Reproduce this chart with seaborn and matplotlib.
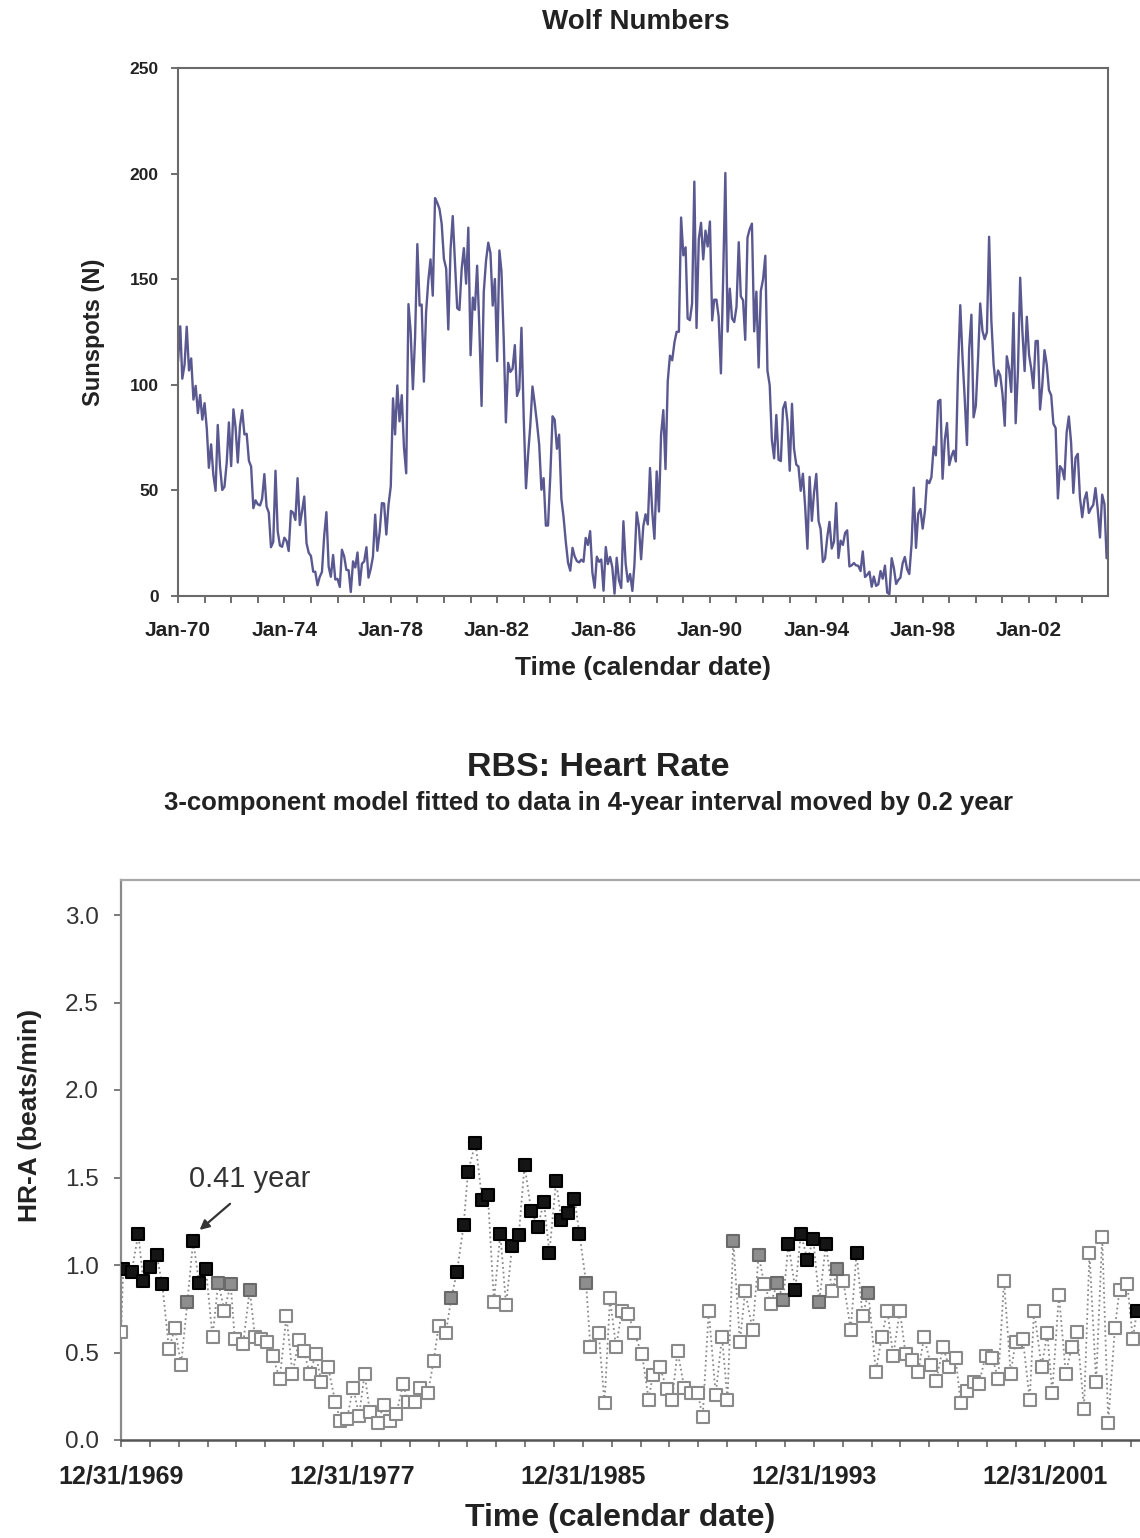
import numpy as np
import pandas as pd
import matplotlib
matplotlib.use("Agg")
import matplotlib.pyplot as plt
import matplotlib.dates as mdates
from matplotlib.ticker import FixedLocator, MultipleLocator
import seaborn as sns

sns.set_style("ticks")
plt.rcParams['font.family'] = ['Liberation Sans', 'DejaVu Sans']

# ---------------- Top panel: monthly Wolf numbers (Jan 1970 - Dec 2004) ----------------
sunspots_1970s = [
    111.0, 127.7, 102.9, 109.5, 127.5, 106.8, 112.5, 93.0, 99.5, 86.6, 95.2, 83.5,
    91.3, 79.0, 60.7, 71.8, 57.5, 49.8, 81.0, 61.4, 50.2, 51.7, 63.2, 82.2,
    61.5, 88.4, 80.1, 63.2, 80.5, 88.0, 76.5, 76.8, 64.0, 61.3, 41.6, 45.3,
    43.4, 42.9, 46.0, 57.7, 42.4, 39.5, 23.1, 25.6, 59.3, 30.7, 23.9, 23.3,
    27.6, 26.0, 21.3, 40.3, 39.5, 36.0, 55.8, 33.6, 40.2, 47.1, 25.0, 20.5,
    18.9, 11.5, 11.5, 5.1, 9.0, 11.4, 28.2, 39.7, 13.9, 9.1, 19.4, 7.8,
    8.1, 4.3, 21.9, 18.8, 12.4, 12.2, 1.9, 16.4, 13.5, 20.6, 5.2, 15.3,
    16.4, 23.1, 8.7, 12.9, 18.6, 38.5, 21.4, 30.1, 44.0, 43.8, 29.1, 43.2,
    51.9, 93.6, 76.5, 99.7, 82.7, 95.1, 70.4, 58.1, 138.2, 125.1, 97.9, 122.7,
    166.6, 137.5, 138.0, 101.5, 134.4, 149.5, 159.4, 142.2, 188.4, 186.2, 183.3, 176.3,
]
sunspots_1980s = [
    159.6, 155.0, 126.2, 164.1, 179.9, 157.3, 136.3, 135.4, 155.0, 164.7, 147.9, 174.4,
    114.0, 141.3, 135.5, 156.4, 127.5, 90.0, 143.8, 158.7, 167.3, 162.4, 137.5, 150.1,
    111.2, 163.6, 153.8, 122.0, 82.2, 110.4, 106.1, 107.6, 118.8, 94.7, 98.1, 127.0,
    84.3, 51.0, 66.5, 80.7, 99.2, 91.1, 82.2, 71.8, 50.3, 55.8, 33.3, 33.4,
    57.0, 85.1, 83.5, 69.7, 76.4, 46.1, 37.4, 25.5, 15.7, 12.0, 22.8, 18.7,
    16.5, 15.9, 17.2, 16.2, 27.5, 24.2, 30.7, 11.1, 3.9, 18.6, 16.2, 17.3,
    2.5, 23.2, 15.1, 18.5, 13.7, 1.1, 18.1, 7.4, 3.8, 35.4, 15.2, 6.8,
    10.4, 2.4, 14.7, 39.6, 33.0, 17.4, 33.0, 38.7, 33.9, 60.6, 39.9, 27.1,
    59.0, 40.0, 76.2, 88.0, 60.1, 101.8, 113.8, 111.6, 120.1, 125.1, 125.1, 179.2,
    161.3, 165.1, 131.4, 130.6, 138.5, 196.2, 126.9, 168.9, 176.7, 159.4, 173.0, 165.5,
]
sunspots_1990s = [
    177.3, 130.5, 140.3, 140.3, 132.2, 105.4, 149.4, 200.3, 125.2, 145.5, 131.4, 129.7,
    136.9, 167.5, 141.9, 140.0, 121.3, 169.7, 173.7, 176.3, 125.3, 144.1, 108.2, 144.4,
    150.0, 161.1, 106.7, 99.8, 73.8, 65.2, 85.7, 64.5, 63.9, 88.7, 91.8, 82.6,
    59.3, 91.0, 69.8, 62.2, 61.3, 49.8, 57.9, 42.2, 22.4, 56.4, 35.6, 48.9,
    57.8, 35.5, 31.7, 16.1, 17.8, 28.0, 35.1, 22.5, 25.7, 44.0, 18.0, 26.2,
    24.2, 29.9, 31.1, 14.0, 14.5, 15.6, 14.5, 14.3, 11.8, 21.1, 9.0, 10.0,
    11.5, 4.4, 9.2, 4.8, 5.5, 11.8, 8.2, 14.4, 1.6, 0.9, 17.9, 13.3,
    5.7, 7.6, 8.7, 15.5, 18.5, 12.7, 10.4, 24.4, 51.3, 22.8, 39.0, 41.2,
    31.9, 40.3, 54.8, 53.4, 56.3, 70.7, 66.6, 92.2, 92.9, 55.5, 74.0, 81.9,
    62.0, 66.3, 68.8, 63.7, 106.4, 137.7, 113.5, 93.7, 71.5, 116.7, 133.2, 84.6,
]
sunspots_2000s = [
    90.1, 112.9, 138.5, 125.5, 121.6, 124.9, 170.1, 130.5, 109.7, 99.4, 106.8, 104.4,
    95.6, 80.6, 113.5, 107.7, 96.6, 134.0, 81.8, 106.4, 150.7, 125.5, 106.5, 132.2,
    114.1, 107.4, 98.4, 120.7, 120.8, 88.3, 99.6, 116.4, 109.6, 97.5, 95.0, 81.6,
    79.5, 46.2, 61.5, 60.0, 55.2, 77.4, 85.0, 72.7, 48.8, 65.5, 67.3, 46.5,
    37.3, 45.8, 49.1, 39.3, 41.5, 43.2, 51.1, 40.9, 27.7, 48.0, 43.5, 17.9,
]
sunspot_start = "1970-01-01"
top_tick_years = [1970, 1974, 1978, 1982, 1986, 1990, 1994, 1998, 2002]

# ---------------- Bottom panel: HR-A amplitude of the 0.41-year component ----------------
hr_year = [
    1970.00, 1970.08, 1970.37, 1970.60, 1970.77, 1971.00, 1971.23, 1971.43, 1971.66, 1971.87,
    1972.08, 1972.30, 1972.50, 1972.70, 1972.94, 1973.17, 1973.37, 1973.58, 1973.80, 1973.94,
    1974.23, 1974.46, 1974.64, 1974.85, 1975.06, 1975.25, 1975.50, 1975.73, 1975.94, 1976.16,
    1976.33, 1976.54, 1976.75, 1976.94, 1977.17, 1977.42, 1977.60, 1977.83, 1978.04, 1978.25,
    1978.44, 1978.62, 1978.90, 1979.10, 1979.33, 1979.54, 1979.77, 1979.94, 1980.17, 1980.37,
    1980.63, 1980.83, 1981.00, 1981.25, 1981.44, 1981.64, 1981.87, 1982.02, 1982.28, 1982.51,
    1982.71, 1982.92, 1983.14, 1983.34, 1983.55, 1983.78, 1983.98, 1984.21, 1984.44, 1984.65,
    1984.84, 1985.07, 1985.25, 1985.48, 1985.71, 1985.88, 1986.11, 1986.26, 1986.55, 1986.75,
    1986.94, 1987.15, 1987.35, 1987.58, 1987.78, 1988.05, 1988.28, 1988.42, 1988.67, 1988.90,
    1989.09, 1989.28, 1989.51, 1989.75, 1989.98, 1990.15, 1990.36, 1990.60, 1990.82, 1991.01,
    1991.21, 1991.44, 1991.62, 1991.88, 1992.09, 1992.28, 1992.51, 1992.74, 1992.94, 1993.12,
    1993.36, 1993.55, 1993.78, 1993.98, 1994.19, 1994.42, 1994.63, 1994.82, 1995.02, 1995.28,
    1995.48, 1995.69, 1995.89, 1996.15, 1996.35, 1996.55, 1996.75, 1996.98, 1997.18, 1997.39,
    1997.62, 1997.82, 1998.05, 1998.24, 1998.48, 1998.68, 1998.91, 1999.09, 1999.32, 1999.55,
    1999.72, 1999.95, 2000.18, 2000.39, 2000.59, 2000.82, 2000.99, 2001.24, 2001.48, 2001.63,
    2001.89, 2002.09, 2002.26, 2002.49, 2002.73, 2002.93, 2003.12, 2003.36, 2003.55, 2003.78,
    2003.99, 2004.20, 2004.43, 2004.59, 2004.86, 2005.05, 2005.20,
]
hr_amp = [
    0.62, 0.98, 0.96, 1.18, 0.91, 0.99, 1.06, 0.89, 0.52, 0.64,
    0.43, 0.79, 1.14, 0.90, 0.98, 0.59, 0.90, 0.74, 0.89, 0.58,
    0.55, 0.86, 0.59, 0.58, 0.56, 0.48, 0.35, 0.71, 0.38, 0.57,
    0.51, 0.38, 0.49, 0.33, 0.42, 0.22, 0.11, 0.12, 0.30, 0.14,
    0.38, 0.16, 0.10, 0.20, 0.11, 0.15, 0.32, 0.22, 0.22, 0.30,
    0.27, 0.45, 0.65, 0.61, 0.81, 0.96, 1.23, 1.53, 1.70, 1.37,
    1.40, 0.79, 1.18, 0.77, 1.11, 1.17, 1.57, 1.31, 1.22, 1.36,
    1.07, 1.48, 1.26, 1.30, 1.38, 1.18, 0.90, 0.53, 0.61, 0.21,
    0.81, 0.53, 0.74, 0.72, 0.61, 0.49, 0.23, 0.37, 0.42, 0.29,
    0.23, 0.51, 0.30, 0.27, 0.27, 0.13, 0.74, 0.26, 0.59, 0.23,
    1.14, 0.56, 0.85, 0.63, 1.06, 0.89, 0.78, 0.90, 0.80, 1.12,
    0.86, 1.18, 1.03, 1.15, 0.79, 1.12, 0.85, 0.98, 0.91, 0.63,
    1.07, 0.71, 0.84, 0.39, 0.59, 0.74, 0.48, 0.74, 0.49, 0.46,
    0.39, 0.59, 0.43, 0.34, 0.53, 0.42, 0.47, 0.21, 0.28, 0.33,
    0.32, 0.48, 0.47, 0.35, 0.91, 0.38, 0.56, 0.58, 0.23, 0.74,
    0.42, 0.61, 0.27, 0.83, 0.38, 0.53, 0.62, 0.18, 1.07, 0.33,
    1.16, 0.10, 0.64, 0.86, 0.89, 0.58, 0.74,
]
# b = significant (black), g = marginal (gray), o = not significant (open)
hr_class = list(
    "obbbbbbboo"
    "ogbbbogogo"
    "ogoooooooo"
    "oooooooooo"
    "oooooooooo"
    "oooogbbbbb"
    "bobobbbbbb"
    "bbbbbbgooo"
    "oooooooooo"
    "oooooooooo"
    "gooogooggb"
    "bbbbgbogoo"
    "bogooooooo"
    "oooooooooo"
    "oooooooooo"
    "oooooooooo"
    "oooooob"
)
hr_tick_years = [1970, 1978, 1986, 1994, 2002]
hr_tick_labels = ["12/31/1969", "12/31/1977", "12/31/1985", "12/31/1993", "12/31/2001"]

# ---------------- Figure ----------------
fig = plt.figure(figsize=(11.4, 15.38), dpi=100)
W, H = 1140, 1538
TXT = "#222222"

def axes_px(l, t, r, b):
    return fig.add_axes([l / W, 1 - b / H, (r - l) / W, (b - t) / H])

# ---- Top
ax1 = axes_px(178, 68, 1108, 596)
ss = sunspots_1970s + sunspots_1980s + sunspots_1990s + sunspots_2000s
ss_df = pd.DataFrame({"date": pd.date_range(sunspot_start, periods=len(ss), freq="MS"),
                      "N": ss})
sns.lineplot(data=ss_df, x="date", y="N", ax=ax1, color="#5a5890", lw=1.7)
ax1.set_xlim(pd.Timestamp("1970-01-01"), pd.Timestamp("2004-12-20"))
ax1.set_ylim(0, 250)
ax1.yaxis.set_major_locator(MultipleLocator(50))
ax1.xaxis.set_major_locator(FixedLocator(
    [mdates.date2num(pd.Timestamp(f"{y}-01-01")) for y in top_tick_years]))
ax1.xaxis.set_minor_locator(mdates.YearLocator(1))
ax1.xaxis.set_major_formatter(mdates.DateFormatter("%b-%y"))
for s in ax1.spines.values():
    s.set_color("#6a6a6a")
    s.set_linewidth(1.5)
ax1.tick_params(axis="both", which="both", direction="out", color="#555", width=1.2)
ax1.tick_params(axis="both", which="major", length=5)
ax1.tick_params(axis="x", which="minor", length=5)
ax1.tick_params(axis="x", which="major", labelsize=15, pad=13)
ax1.tick_params(axis="y", which="major", labelsize=12.5, pad=9)
for lab in ax1.get_xticklabels() + ax1.get_yticklabels():
    lab.set_fontweight("bold")
    lab.set_color(TXT)
ax1.set_xlabel("Time (calendar date)", fontsize=19, fontweight="bold", color=TXT)
ax1.xaxis.set_label_coords(0.5, (596 - 668) / 528)
ax1.xaxis.label.set_va("center")
ax1.set_ylabel("Sunspots (N)", fontsize=17, fontweight="bold", color=TXT)
ax1.yaxis.set_label_coords((93 - 178) / 930, 0.5)
ax1.yaxis.label.set_va("center")
fig.text(636 / W, 1 - 22 / H, "Wolf Numbers", ha="center", va="center",
         fontsize=20, fontweight="bold", color=TXT)

# ---- Bottom
ax2 = axes_px(121, 880, 1140, 1440)
hr_df = pd.DataFrame({"year": hr_year, "amp": hr_amp, "cls": hr_class})
sns.lineplot(data=hr_df, x="year", y="amp", ax=ax2, color="#8a8a8a", lw=1.3,
             linestyle=":", estimator=None, sort=False, zorder=2)
styles = {
    "o": dict(color="white", edgecolor="#8a8a8a"),
    "g": dict(color="#8e8e8e", edgecolor="#6a6a6a"),
    "b": dict(color="#151515", edgecolor="#000000"),
}
for cls in ["o", "g", "b"]:
    sub = hr_df[hr_df["cls"] == cls]
    sns.scatterplot(data=sub, x="year", y="amp", ax=ax2, marker="s", s=75,
                    linewidth=1.5, zorder=3, **styles[cls])
ax2.set_xlim(1970, 2005.3)
ax2.set_ylim(0, 3.2)
ax2.set_yticks([0, 0.5, 1.0, 1.5, 2.0, 2.5, 3.0])
ax2.set_yticklabels(["0.0", "0.5", "1.0", "1.5", "2.0", "2.5", "3.0"])
ax2.xaxis.set_major_locator(FixedLocator(hr_tick_years))
ax2.set_xticklabels(hr_tick_labels)
ax2.xaxis.set_minor_locator(MultipleLocator(1))
ax2.spines["right"].set_visible(False)
ax2.spines["top"].set_color("#a8a8a8")
ax2.spines["left"].set_color("#8a8a8a")
ax2.spines["bottom"].set_color("#555")
ax2.spines["bottom"].set_linewidth(1.8)
ax2.spines["left"].set_linewidth(1.6)
ax2.spines["top"].set_linewidth(1.6)
ax2.tick_params(axis="both", which="both", direction="out", color="#666", width=1.2, length=5)
ax2.tick_params(axis="y", labelsize=17.5, pad=11)
ax2.tick_params(axis="x", labelsize=18, pad=13)
for lab in ax2.get_xticklabels():
    lab.set_fontweight("bold")
    lab.set_color(TXT)
for lab in ax2.get_yticklabels():
    lab.set_color("#333")
ax2.set_xlabel("Time (calendar date)", fontsize=23, fontweight="bold", color=TXT)
ax2.xaxis.set_label_coords((620 - 121) / 1019, (1440 - 1518) / 560)
ax2.xaxis.label.set_va("center")
ax2.set_ylabel("HR-A (beats/min)", fontsize=19, fontweight="bold", color=TXT)
ax2.yaxis.set_label_coords((30 - 121) / 1019, (1440 - 1115) / 560)
ax2.yaxis.label.set_va("center")
ax2.text(1972.35, 1.49, "0.41 year", fontsize=21, color="#333", va="center", ha="left")
ax2.annotate("", xy=(1972.65, 1.19), xytext=(1973.85, 1.36),
             arrowprops=dict(arrowstyle="-|>", color="#333", lw=1.6, mutation_scale=14))

fig.text(598 / W, 1 - 768 / H, "RBS: Heart Rate", ha="center", va="center",
         fontsize=24.5, fontweight="bold", color=TXT)
fig.text(588 / W, 1 - 803 / H,
         "3-component model fitted to data in 4-year interval moved by 0.2 year",
         ha="center", va="center", fontsize=18.5, fontweight="bold", color=TXT)

fig.savefig("out.png", dpi=100)
